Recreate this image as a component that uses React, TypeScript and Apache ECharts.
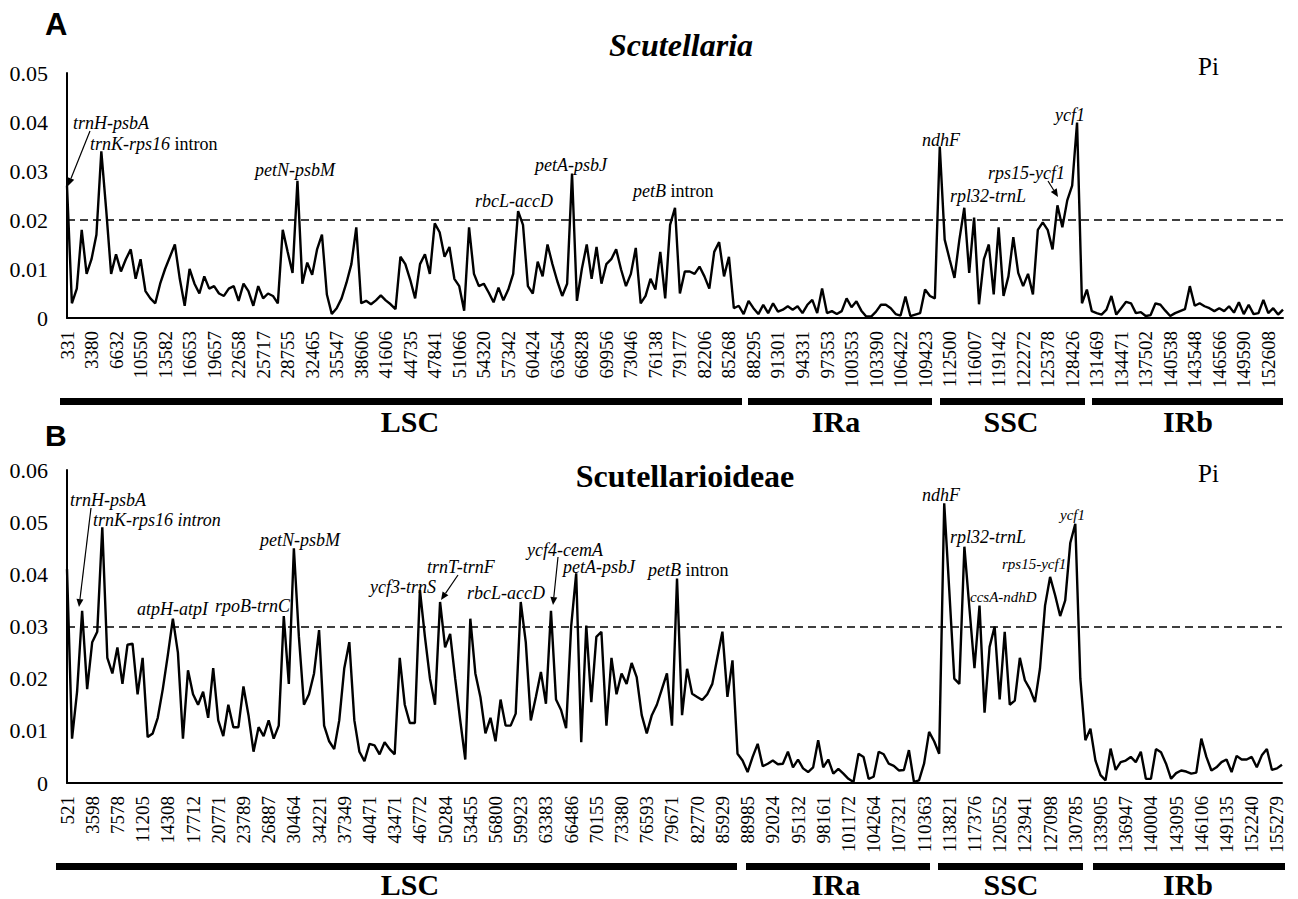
import React, { useEffect, useRef } from "react";
import * as echarts from "echarts";

// ---------- DATA ----------
const ticksA = ["331","3380","6632","10550","13582","16653","19657","22658","25717","28755","32465","35547","38606","41606","44735","47841","51066","54320","57342","60424","63654","66828","69956","73046","76138","79177","82206","85268","88295","91301","94331","97353","100353","103390","106422","109423","112500","116007","119142","122272","125378","128426","131469","134471","137502","140538","143548","146566","149590","152608"];

const piA = [
  0.027,0.003,0.006,0.018,0.009,0.012,0.017,0.034,0.022,0.009,
  0.013,0.0095,0.012,0.014,0.008,0.012,0.0055,0.004,0.003,0.007,
  0.010,0.0125,0.015,0.008,0.0025,0.010,0.007,0.005,0.0085,0.006,
  0.0065,0.005,0.0045,0.006,0.0065,0.0035,0.007,0.0055,0.0025,0.0065,
  0.004,0.005,0.0045,0.003,0.018,0.0135,0.0092,0.028,0.007,0.0113,
  0.0088,0.014,0.017,0.0048,0.0008,0.002,0.004,0.0072,0.011,0.0185,
  0.003,0.0035,0.0028,0.0036,0.0046,0.0036,0.0028,0.0018,0.0125,0.011,
  0.0078,0.004,0.011,0.013,0.009,0.0193,0.0175,0.0125,0.0145,0.008,
  0.0065,0.0015,0.0185,0.009,0.0065,0.007,0.0052,0.0032,0.0062,0.0036,
  0.0058,0.009,0.0218,0.019,0.0065,0.005,0.0115,0.0085,0.015,0.011,
  0.0075,0.0045,0.007,0.0295,0.0035,0.010,0.015,0.008,0.0145,0.007,
  0.011,0.012,0.014,0.0099,0.0065,0.009,0.0143,0.003,0.0045,0.008,
  0.0058,0.0135,0.004,0.019,0.0225,0.005,0.0095,0.0095,0.009,0.0105,
  0.0085,0.006,0.0135,0.0155,0.0085,0.0125,0.002,0.0025,0.0008,0.0035,
  0.002,0.0008,0.0027,0.001,0.003,0.0013,0.0017,0.0024,0.0017,0.0024,
  0.001,0.0027,0.0037,0.001,0.006,0.001,0.0014,0.0008,0.0014,0.004,
  0.0022,0.0034,0.0015,0.0003,0.0003,0.0013,0.0027,0.0027,0.002,0.0008,
  0.0005,0.0044,0.0004,0.0007,0.001,0.0058,0.0045,0.004,0.035,0.016,
  0.012,0.0082,0.016,0.0225,0.0092,0.0205,0.0028,0.012,0.015,0.0048,
  0.0185,0.0045,0.0085,0.0165,0.0092,0.0065,0.009,0.0048,0.018,0.0195,
  0.018,0.014,0.023,0.0185,0.024,0.027,0.0399,0.003,0.0058,0.0014,
  0.001,0.0007,0.0017,0.0045,0.0007,0.002,0.0033,0.003,0.001,0.0012,
  0.0004,0.0006,0.003,0.0027,0.0015,0.0004,0.001,0.0014,0.0018,0.0065,
  0.0025,0.003,0.0024,0.002,0.0014,0.002,0.0014,0.0024,0.0011,0.0032,
  0.0008,0.0027,0.0008,0.001,0.0037,0.001,0.002,0.0007,0.0017
];

const ticksB = ["521","3598","7578","11205","14308","17712","20771","23789","26887","30464","34221","37349","40471","43471","46772","50284","53455","56800","59923","63383","66486","70155","73380","76593","79671","82770","85929","88985","92024","95132","98161","101172","104264","107321","110363","113821","117376","120552","123941","127098","130785","133905","136947","140004","143095","146106","149135","152240","155279"];

const piB = [
  0.041,0.0085,0.0175,0.033,0.018,0.027,0.029,0.049,0.024,0.021,
  0.026,0.019,0.0265,0.0267,0.017,0.024,0.0088,0.0095,0.0125,0.018,
  0.0245,0.0315,0.025,0.0085,0.0216,0.017,0.015,0.0175,0.0125,0.022,
  0.012,0.009,0.015,0.0107,0.0107,0.0185,0.013,0.006,0.0107,0.009,
  0.012,0.0085,0.011,0.032,0.019,0.045,0.028,0.015,0.017,0.021,
  0.0293,0.011,0.008,0.0065,0.012,0.022,0.027,0.012,0.006,0.0042,
  0.0075,0.0072,0.0055,0.0078,0.0065,0.0055,0.024,0.015,0.0115,0.0115,
  0.037,0.028,0.020,0.015,0.0347,0.026,0.0286,0.020,0.012,0.0045,
  0.0315,0.021,0.0165,0.0095,0.0125,0.008,0.016,0.011,0.011,0.0133,
  0.0347,0.027,0.012,0.0165,0.0213,0.0152,0.033,0.016,0.014,0.0105,
  0.03,0.0402,0.0078,0.0302,0.0155,0.028,0.029,0.011,0.024,0.017,
  0.021,0.019,0.023,0.0203,0.013,0.0095,0.013,0.015,0.018,0.021,
  0.011,0.0392,0.013,0.0219,0.0171,0.0165,0.0159,0.017,0.019,0.024,
  0.029,0.0165,0.0235,0.0056,0.0043,0.0021,0.005,0.0075,0.0032,0.0037,
  0.0043,0.0036,0.0037,0.006,0.003,0.0045,0.0028,0.0021,0.003,0.0082,
  0.003,0.0045,0.0018,0.0027,0.0018,0.0008,0.0002,0.0056,0.005,0.0008,
  0.0012,0.006,0.0055,0.0037,0.0033,0.0024,0.0025,0.0063,0.0002,0.0005,
  0.0037,0.0098,0.008,0.0056,0.0536,0.037,0.020,0.019,0.0453,0.0335,
  0.022,0.034,0.0135,0.0261,0.03,0.016,0.029,0.015,0.0158,0.024,
  0.0197,0.018,0.0155,0.022,0.034,0.0395,0.036,0.032,0.035,0.046,
  0.0497,0.02,0.0082,0.0104,0.0043,0.0015,0.0005,0.0066,0.0025,0.004,
  0.0043,0.005,0.004,0.006,0.0008,0.0008,0.0065,0.0059,0.0037,0.0008,
  0.0019,0.0024,0.0022,0.0018,0.002,0.0085,0.005,0.0024,0.003,0.004,
  0.0045,0.0021,0.0052,0.0045,0.0045,0.005,0.003,0.0053,0.0065,0.0025,
  0.0028,0.0035
];

const regionNames = ["LSC", "IRa", "SSC", "IRb"];
const thresholdA = 0.02;
const thresholdB = 0.03;
const maxA = 0.05;
const maxB = 0.06;
const STEP = 5;

// ---------- STYLE / LAYOUT ----------
const SERIF = "Liberation Serif";
const SANS = "Liberation Sans";

function xAxisFor(gridIndex: number, values: number[], ticks: string[]) {
  return {
    type: "category",
    gridIndex,
    data: values.map((_, i) => String(i)),
    boundaryGap: false,
    axisLine: { show: true, lineStyle: { color: "#000", width: 2 } },
    axisTick: { show: false },
    splitLine: { show: false },
    axisLabel: {
      interval: STEP - 1,
      rotate: 90,
      margin: 13,
      color: "#000",
      fontFamily: SERIF,
      fontSize: 19,
      formatter: (v: string) => {
        const i = Number(v);
        if (i % STEP !== 0) return "";
        const t = ticks[i / STEP];
        return t === undefined ? "" : t;
      },
    },
  };
}

function yAxisFor(gridIndex: number, max: number) {
  return {
    type: "value",
    gridIndex,
    min: 0,
    max,
    interval: 0.01,
    axisLine: { show: true, lineStyle: { color: "#000", width: 2 } },
    axisTick: { show: false },
    splitLine: { show: false },
    axisLabel: {
      color: "#000",
      fontFamily: SERIF,
      fontSize: 22,
      margin: 19,
      formatter: (v: number) => (v === 0 ? "0" : v.toFixed(2)),
    },
  };
}

function lineSeries(idx: number, data: number[], threshold: number) {
  return {
    type: "line",
    xAxisIndex: idx,
    yAxisIndex: idx,
    data,
    symbol: "none",
    showSymbol: false,
    lineStyle: { color: "#000", width: 2.4 },
    itemStyle: { color: "#000" },
    markLine: {
      silent: true,
      symbol: "none",
      label: { show: false },
      lineStyle: { color: "#000", type: [8, 5], width: 1.5 },
      data: [{ yAxis: threshold }],
    },
  };
}

function txt(x: number, y: number, text: string, size = 18, opts: any = {}) {
  return {
    type: "text",
    x,
    y,
    silent: true,
    style: {
      text,
      fill: "#000",
      fontFamily: opts.family || SERIF,
      fontSize: size,
      fontStyle: opts.italic === false ? "normal" : "italic",
      fontWeight: opts.bold ? "bold" : "normal",
      textAlign: opts.align || "left",
      align: opts.align || "left",
      textVerticalAlign: "middle",
      verticalAlign: "middle",
      rich: opts.rich,
    },
  };
}

const mixRich = (size: number) => ({
  i: { fontFamily: SERIF, fontSize: size, fontStyle: "italic", fill: "#000", color: "#000" },
  n: { fontFamily: SERIF, fontSize: size, fontStyle: "normal", fill: "#000", color: "#000" },
});

function arrow(x1: number, y1: number, x2: number, y2: number) {
  const a = Math.atan2(y2 - y1, x2 - x1);
  const L = 8;
  const W = 3.5;
  const bx = x2 - L * Math.cos(a);
  const by = y2 - L * Math.sin(a);
  const px = -Math.sin(a) * W;
  const py = Math.cos(a) * W;
  return [
    { type: "line", silent: true, shape: { x1, y1, x2: bx, y2: by }, style: { stroke: "#000", lineWidth: 1.2 } },
    {
      type: "polygon",
      silent: true,
      shape: { points: [[x2, y2], [bx + px, by + py], [bx - px, by - py]] },
      style: { fill: "#000" },
    },
  ];
}

function regionBars(spans: number[][], barY: number, labelY: number, centers: number[]) {
  const els: any[] = [];
  spans.forEach((s, k) => {
    els.push({ type: "rect", silent: true, shape: { x: s[0], y: barY, width: s[1] - s[0], height: 7 }, style: { fill: "#000" } });
    els.push(txt(centers[k], labelY, regionNames[k], 30, { italic: false, bold: true, align: "center" }));
  });
  return els;
}

export default function App() {
  const ref = useRef<HTMLDivElement>(null);

  useEffect(() => {
    if (!ref.current) return;
    const chart = echarts.init(ref.current, undefined, { renderer: "svg" });

    const graphics: any[] = [
      // panel A
      txt(45, 24, "A", 31, { family: SANS, bold: true, italic: false }),
      txt(681, 45, "Scutellaria", 32, { bold: true, align: "center" }),
      txt(1198, 66, "Pi", 25, { italic: false }),
      txt(73, 123, "trnH-psbA"),
      ...arrow(90, 131, 68, 186),
      txt(90, 144, "{i|trnK-rps16} {n|intron}", 18, { rich: mixRich(18) }),
      txt(255, 170, "petN-psbM"),
      txt(475, 201, "rbcL-accD"),
      txt(535, 165, "petA-psbJ"),
      txt(633, 191, "{i|petB} {n|intron}", 18, { rich: mixRich(18) }),
      txt(922, 140, "ndhF"),
      txt(950, 196, "rpl32-trnL"),
      txt(988, 173, "rps15-ycf1"),
      ...arrow(1048, 181, 1058, 197),
      txt(1055, 115, "ycf1"),
      ...regionBars([[60, 742], [748, 932], [940, 1085], [1092, 1283]], 398, 421, [410, 836, 1011, 1188]),
      // panel B
      txt(45, 435, "B", 30, { family: SANS, bold: true, italic: false }),
      txt(685, 476, "Scutellarioideae", 32, { bold: true, italic: false, align: "center" }),
      txt(1198, 473, "Pi", 25, { italic: false }),
      txt(70, 500, "trnH-psbA"),
      ...arrow(91, 508, 79, 607),
      txt(93, 520, "trnK-rps16 intron"),
      txt(137, 609, "atpH-atpI"),
      txt(215, 606, "rpoB-trnC"),
      txt(260, 540, "petN-psbM"),
      txt(370, 587, "ycf3-trnS"),
      txt(427, 567, "trnT-trnF"),
      ...arrow(458, 575, 441, 600),
      txt(467, 593, "rbcL-accD"),
      txt(527, 550, "ycf4-cemA"),
      ...arrow(558, 557, 553, 605),
      txt(563, 567, "petA-psbJ"),
      txt(648, 570, "{i|petB} {n|intron}", 18, { rich: mixRich(18) }),
      txt(922, 495, "ndhF"),
      txt(950, 537, "rpl32-trnL"),
      txt(970, 597, "ccsA-ndhD", 15),
      txt(1002, 564, "rps15-ycf1", 15),
      txt(1060, 515, "ycf1", 15),
      ...regionBars([[56, 737], [746, 930], [938, 1083], [1093, 1285]], 863, 884, [410, 836, 1011, 1188]),
    ];

    chart.setOption({
      animation: false,
      backgroundColor: "#fff",
      grid: [
        { left: 67, top: 73, width: 1216, height: 245 },
        { left: 67, top: 470, width: 1215, height: 313 },
      ],
      xAxis: [xAxisFor(0, piA, ticksA), xAxisFor(1, piB, ticksB)],
      yAxis: [yAxisFor(0, maxA), yAxisFor(1, maxB)],
      series: [lineSeries(0, piA, thresholdA), lineSeries(1, piB, thresholdB)],
      graphic: { elements: graphics },
    });

    return () => chart.dispose();
  }, []);

  return (
    <div
      ref={ref}
      style={{ position: "absolute", left: 0, top: 0, width: 1298, height: 899, background: "#fff" }}
    />
  );
}
